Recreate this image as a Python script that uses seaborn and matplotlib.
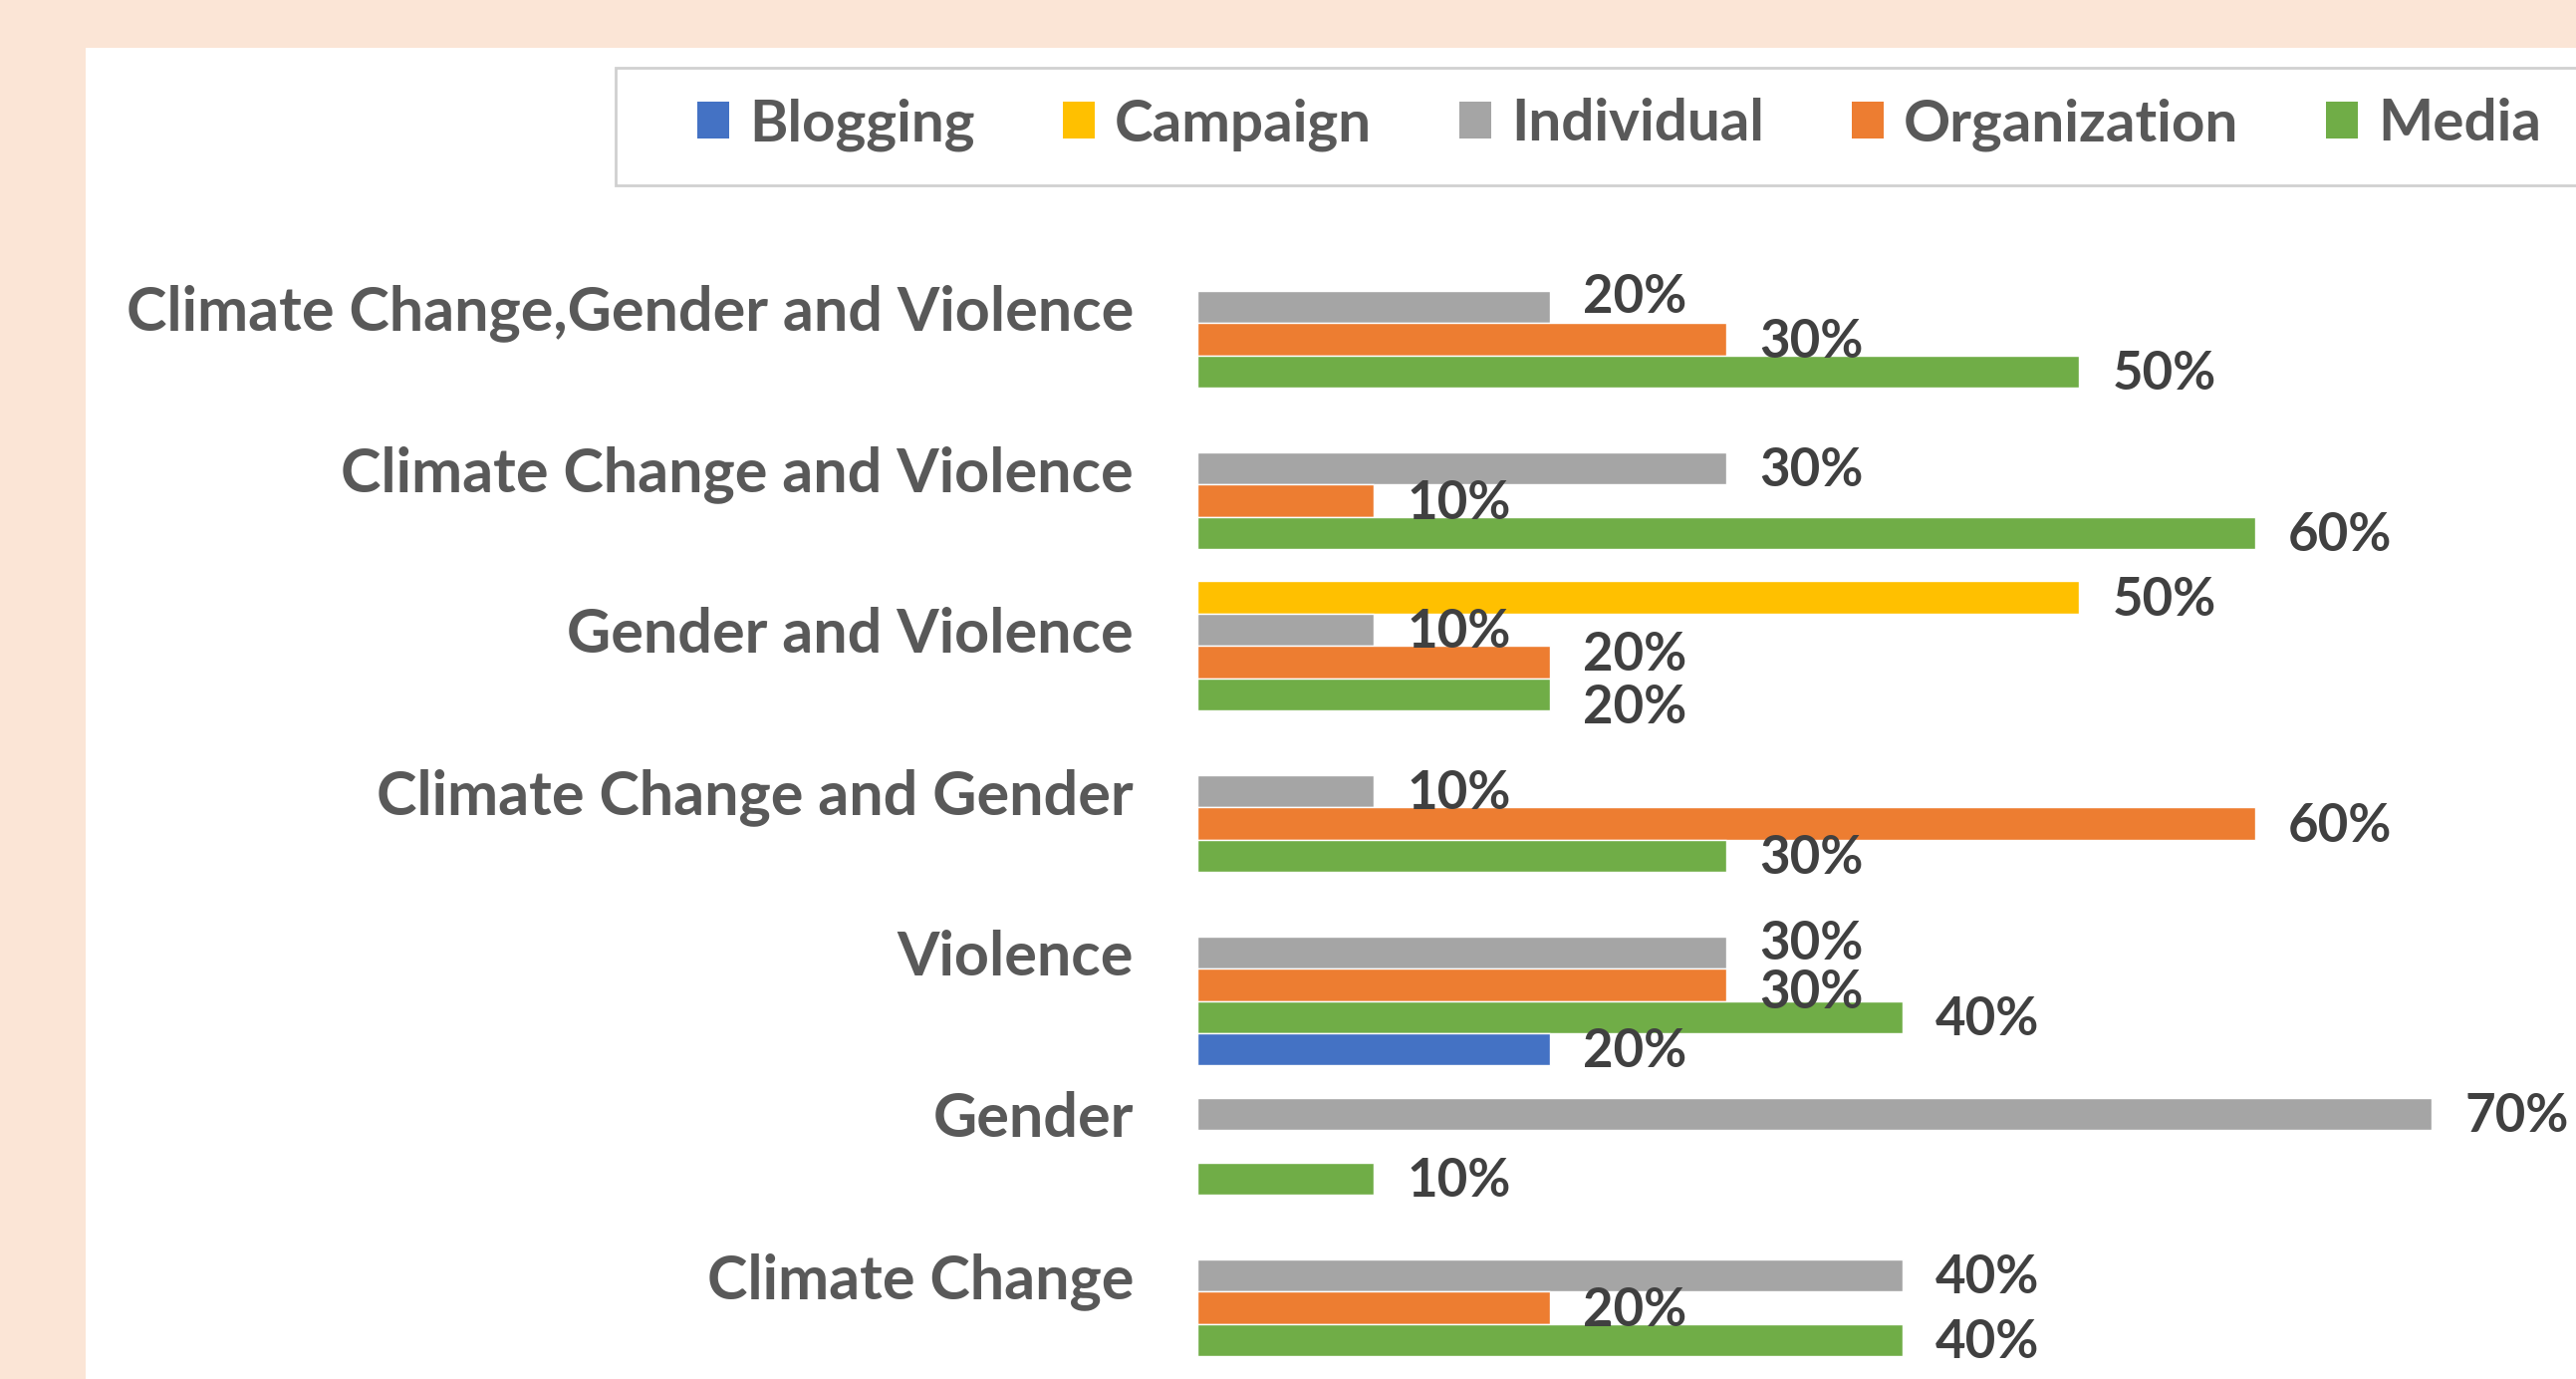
import numpy as np
import pandas as pd
import matplotlib
matplotlib.use("Agg")
import matplotlib.pyplot as plt
from matplotlib.patches import Rectangle, Patch
import seaborn as sns

# data (percent of posts)
topics = ["Climate Change,Gender and Violence", "Climate Change and Violence",
          "Gender and Violence", "Climate Change and Gender", "Violence",
          "Gender", "Climate Change"]
blogging = [0, 0, 0, 0, 20, 0, 0]
campaign = [0, 0, 50, 0, 0, 0, 0]
individual = [20, 30, 10, 10, 30, 70, 40]
organization = [30, 10, 20, 60, 30, 0, 20]
media = [50, 60, 20, 30, 40, 10, 40]

legend_order = ["Blogging", "Campaign", "Individual", "Organization", "Media"]
bar_order = ["Campaign", "Individual", "Organization", "Media", "Blogging"]
colors = {"Blogging": "#4472C4", "Campaign": "#FFC000", "Individual": "#A5A5A5",
          "Organization": "#ED7D31", "Media": "#70AD47"}

series = {"Blogging": blogging, "Campaign": campaign, "Individual": individual,
          "Organization": organization, "Media": media}
df = pd.concat([pd.DataFrame({"topic": topics, "source": k, "share": v})
                for k, v in series.items()], ignore_index=True)

# vertical nudges (points, + = up) so crowded labels don't collide, as in the original
label_nudge = {(0, "Individual"): 9, (2, "Organization"): 7, (2, "Media"): -8,
               (4, "Individual"): 8, (4, "Organization"): -4}

sns.set_theme(style="white")
plt.rcParams["font.family"] = ["Lato", "DejaVu Sans"]
plt.rcParams["font.weight"] = "bold"

W, H = 2586, 1384
fig = plt.figure(figsize=(W / 100, H / 100), dpi=100, facecolor="#FBE5D6")

# white chart area
fig.patches.append(Rectangle((86 / W, 0), 1, 1 - 48 / H, transform=fig.transFigure,
                             facecolor="white", edgecolor="none", zorder=0))

ax_left = 1202 / W
ax_top = 250 / H
ax = fig.add_axes([ax_left, 0, 1 - ax_left, 1 - ax_top])
ax.set_facecolor("none")
ax.set_zorder(3)

sns.barplot(data=df, y="topic", x="share", hue="source", order=topics,
            hue_order=bar_order, palette=colors, saturation=1, orient="h",
            width=1.0, gap=0, errorbar=None, legend=False, ax=ax)

for name, c in zip(bar_order, ax.containers):
    labels = [f"{v:.0f}%" if v > 0 else "" for v in c.datavalues]
    anns = ax.bar_label(c, labels=labels, padding=24, fontsize=38,
                        fontweight="bold", color="#404040")
    for i, a in enumerate(anns):
        dy = -2 + label_nudge.get((i, name), 0)
        a.xyann = (a.xyann[0], a.xyann[1] + dy)

ax.set_xlim(0, 78.2)
ax.set_ylim(6.442, -0.558)
ax.set_yticks(np.arange(len(topics)) - 0.2, topics)
ax.tick_params(axis="y", length=0, pad=46, labelsize=44, labelcolor="#595959")
ax.set_xticks([])
ax.set_xlabel("")
ax.set_ylabel("")
sns.despine(ax=ax, left=True, bottom=True)

# legend box and entries
fig.patches.append(Rectangle((618 / W, 1 - 186 / H), 1, 118 / H, transform=fig.transFigure,
                             facecolor="white", edgecolor="#D0D0D0", linewidth=2, zorder=1))
handles = [Patch(facecolor=colors[k], edgecolor="none") for k in legend_order]
leg = fig.legend(handles, legend_order, loc="center left", ncol=5, frameon=False,
                 bbox_to_anchor=(700 / W, 1 - 125 / H), fontsize=42,
                 labelcolor="#595959", handlelength=0.55, handleheight=0.6,
                 handletextpad=0.35, columnspacing=1.5, borderpad=0, borderaxespad=0)
leg.set_zorder(5)

fig.savefig("out.png", dpi=100, facecolor=fig.get_facecolor())
